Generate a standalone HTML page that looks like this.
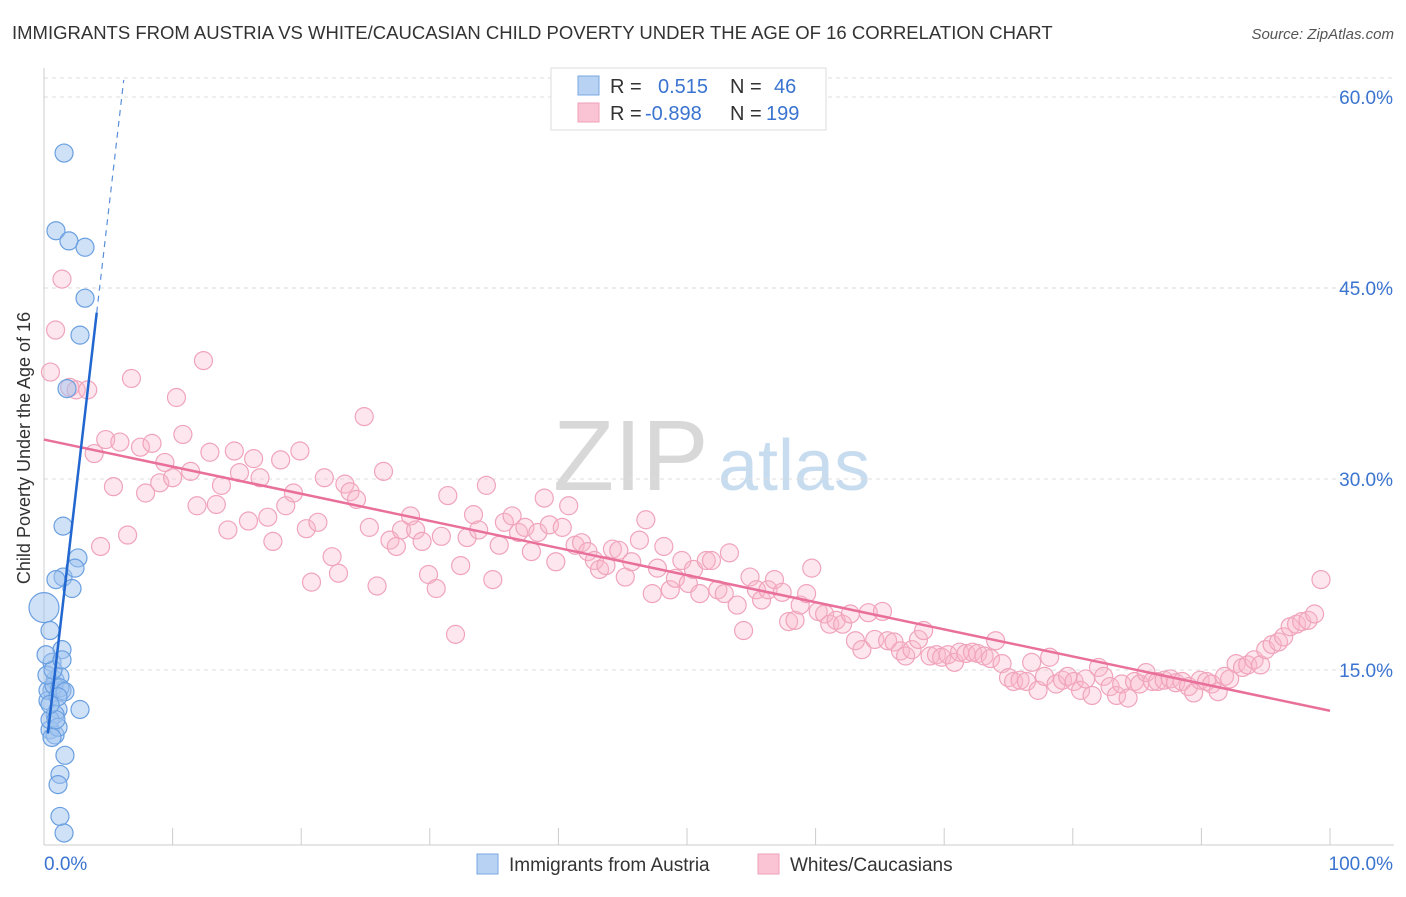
<!DOCTYPE html>
<html><head><meta charset="utf-8"><style>
body{margin:0;background:#fff;font-family:"Liberation Sans",sans-serif}
svg text{font-family:"Liberation Sans",sans-serif}
</style></head><body>
<svg id="c" width="1406" height="892" xmlns="http://www.w3.org/2000/svg">
<text x="12" y="39" font-size="18.5" fill="#333">IMMIGRANTS FROM AUSTRIA VS WHITE/CAUCASIAN CHILD POVERTY UNDER THE AGE OF 16 CORRELATION CHART</text>
<text x="1394" y="39" font-size="15" fill="#555" text-anchor="end" font-style="italic">Source: ZipAtlas.com</text>
<text x="37" y="455" font-size="18" fill="#333" text-anchor="middle" transform="rotate(-90 30 455)">Child Poverty Under the Age of 16</text>
<g>
<text x="553" y="490" font-size="100" fill="#d8d8d8" font-family="Liberation Serif">ZIP</text>
<text x="718" y="490" font-size="72" fill="#c8dcf0">atlas</text>
</g>
<g id="grid"></g><g id="axes"></g><g id="pink"></g><g id="blue"></g><g id="lines"></g>
<g>
<rect x="551" y="68" width="275" height="62" fill="#fff" stroke="#ddd"/>
<rect x="578" y="76" width="21" height="19" fill="#b8d2f4" stroke="#7aa8e0"/>
<rect x="578" y="103" width="21" height="19" fill="#fac4d4" stroke="#f0a0b8"/>
<text x="610" y="93" font-size="20" fill="#333">R = <tspan fill="#3a74d0" x="658">0.515</tspan></text>
<text x="730" y="93" font-size="20" fill="#333">N = <tspan fill="#3a74d0" x="774">46</tspan></text>
<text x="610" y="120" font-size="20" fill="#333">R = <tspan fill="#3a74d0" x="645">-0.898</tspan></text>
<text x="730" y="120" font-size="20" fill="#333">N = <tspan fill="#3a74d0" x="766">199</tspan></text>
</g>
<g>
<rect x="477" y="854" width="21" height="20" fill="#b8d2f4" stroke="#7aa8e0"/>
<text x="509" y="871" font-size="19" fill="#333">Immigrants from Austria</text>
<rect x="758" y="854" width="21" height="20" fill="#fac4d4" stroke="#f0a0b8"/>
<text x="790" y="871" font-size="19" fill="#333">Whites/Caucasians</text>
</g>
</svg>
<script>
const yTicks=[15,30,45,60];
const yTickLabels=["15.0%","30.0%","45.0%","60.0%"];
const xTicks=[0,10,20,30,40,50,60,70,80,90,100];
const blueX=[1.56,0.93,1.94,3.19,3.19,2.8,1.79,1.48,2.64,1.48,0.93,2.41,2.18,0,0.47,1.4,0.62,0.86,1.24,1.4,0.62,0.31,1.09,2.8,0.86,0.47,0.86,1.63,1.24,1.09,1.24,1.56,0.31,0.78,0.47,1.09,0.62,1.24,0.23,0.7,0.93,1.63,0.16,1.09,0.47,1.4];
const blueY=[55.6,49.5,48.7,48.2,44.2,41.3,37.1,26.3,23.8,22.3,22.1,23.0,21.4,19.9,18.1,16.6,15.6,14.2,14.5,13.4,13.4,12.6,11.9,11.9,11.5,10.3,9.9,8.3,6.8,6.0,3.5,2.2,13.4,13.8,11.1,10.5,9.7,13.6,14.6,15.0,11.1,13.3,16.2,12.9,12.3,15.8];
const pinkX=[.5,.9,1.4,2.0,2.5,3.4,3.9,4.4,4.8,5.4,5.9,6.5,6.8,7.5,7.9,8.4,9.0,9.4,10.0,10.3,10.8,11.4,11.9,12.4,12.9,13.4,13.8,14.3,14.8,15.2,15.9,16.3,16.8,17.4,17.8,18.4,18.8,19.4,19.9,20.4,20.8,21.3,21.8,22.4,22.9,23.4,23.8,24.3,24.9,25.3,25.9,26.4,26.9,27.4,27.8,28.5,28.9,29.4,29.9,30.5,30.9,31.4,32.0,32.4,32.9,33.4,33.8,34.4,34.9,35.4,35.8,36.4,36.9,37.4,37.9,38.4,38.9,39.3,39.8,40.3,40.8,41.3,41.8,42.3,42.8,43.2,43.7,44.2,44.7,45.2,45.7,46.3,46.8,47.3,47.7,48.2,48.7,49.1,49.6,50.1,50.5,51.0,51.5,51.9,52.4,52.9,53.3,53.9,54.4,54.9,55.4,55.8,56.3,56.8,57.4,57.9,58.4,58.8,59.3,59.7,60.2,60.7,61.1,61.6,62.1,62.7,63.1,63.6,64.1,64.6,65.2,65.6,66.1,66.6,67.0,67.5,68.0,68.4,68.9,69.4,69.8,70.3,70.8,71.2,71.7,72.2,72.6,73.1,73.6,74.0,74.5,75.0,75.4,75.9,76.4,76.8,77.3,77.8,78.2,78.7,79.2,79.6,80.1,80.6,81.0,81.5,82.0,82.4,82.9,83.4,83.8,84.3,84.8,85.2,85.7,86.2,86.6,87.1,87.6,88.0,88.5,89.0,89.4,89.9,90.4,90.8,91.3,91.8,92.2,92.7,93.2,93.6,94.1,94.6,95.0,95.5,96.0,96.4,96.9,97.4,97.8,98.3,98.8,99.3];
const pinkY=[38.4,41.7,45.7,37.2,37.0,37.0,32.0,24.7,33.1,29.4,32.9,25.6,37.9,32.5,28.9,32.8,29.7,31.3,30.1,36.4,33.5,30.6,27.9,39.3,32.1,28.0,29.5,26.0,32.2,30.5,26.7,31.6,30.1,27.0,25.1,31.5,27.9,28.9,32.2,26.1,21.9,26.6,30.1,23.9,22.6,29.6,29.0,28.4,34.9,26.2,21.6,30.6,25.2,24.7,26.0,27.1,26.0,25.1,22.5,21.4,25.5,28.7,17.8,23.2,25.4,27.2,26.0,29.5,22.1,24.8,26.6,27.1,25.8,26.2,24.3,25.8,28.5,26.4,23.5,26.2,27.9,24.8,25.0,24.3,23.6,22.9,23.2,24.5,24.4,22.3,23.5,25.2,26.8,21.0,23.0,24.7,21.3,22.2,23.6,21.8,22.9,21.0,23.6,23.6,21.3,21.0,24.2,20.1,18.1,22.3,21.3,20.5,21.3,22.1,21.1,18.8,18.9,20.1,21.0,23.0,19.6,19.4,18.6,18.9,18.6,19.4,17.3,16.6,19.5,17.4,19.6,17.3,17.2,16.5,16.1,16.6,17.4,18.1,16.1,16.2,16.0,16.2,15.6,16.4,16.3,16.4,16.3,16.1,15.9,17.3,15.5,14.4,14.1,14.2,14.1,15.6,13.4,14.5,16.0,13.9,14.2,14.5,14.1,13.4,14.3,13.0,15.2,14.5,13.7,13.0,13.9,12.8,14.1,13.9,14.8,14.1,14.1,14.2,14.3,14.0,14.1,13.7,13.2,14.2,14.1,13.9,13.3,14.5,14.3,15.5,15.2,15.4,15.8,15.4,16.6,17.0,17.2,17.6,18.4,18.6,18.8,18.9,19.4,22.1];
const pinkTrend=[33.1,11.8];
const blueTrend={x0:0.3,x1:4.1,x2:6.2,intercept:7.4,slope:8.7};
const NS="http://www.w3.org/2000/svg";
const sx=v=>44+v*12.86, sy=v=>861-v*12.733;
function mk(tag,attrs,parent){const e=document.createElementNS(NS,tag);for(const k in attrs)e.setAttribute(k,attrs[k]);parent.appendChild(e);return e;}
const grid=document.getElementById('grid'),axes=document.getElementById('axes');
let g=mk('line',{x1:44,x2:1394,y1:78,y2:78,stroke:'#ddd','stroke-dasharray':'4 4'},grid);


yTicks.forEach((t,i)=>{
 const l=mk('line',{x1:44,x2:1394,y1:sy(t),y2:sy(t),stroke:'#ddd','stroke-dasharray':'4 4'},grid);
 
 
 const tx=mk('text',{x:1393,y:sy(t)+7,'font-size':19,fill:'#3a74d0','text-anchor':'end'},axes);
 tx.textContent=yTickLabels[i];
 
 
});
let a=mk('line',{x1:44,x2:44,y1:68,y2:845,stroke:'#ccc'},axes);


a=mk('line',{x1:44,x2:1394,y1:845,y2:845,stroke:'#ccc'},axes);


xTicks.forEach(t=>{
 const l=mk('line',{x1:sx(t),x2:sx(t),y1:828,y2:845,stroke:'#ccc'},axes);
 
 
});
let xl=mk('text',{x:44,y:870,'font-size':19,fill:'#3a74d0'},axes);xl.textContent='0.0%';


xl=mk('text',{x:1393,y:870,'font-size':19,fill:'#3a74d0','text-anchor':'end'},axes);xl.textContent='100.0%';


const pg=document.getElementById('pink');
pinkX.forEach((x,i)=>{
 const c=mk('circle',{cx:sx(x),cy:sy(pinkY[i]),r:9,fill:'rgba(248,182,202,0.35)',stroke:'#f0a4bc','stroke-width':1.2},pg);
 
 
});
const bg=document.getElementById('blue');
blueX.forEach((x,i)=>{
 const c=mk('circle',{cx:sx(x),cy:sy(blueY[i]),r:i===13?15:9,fill:'rgba(160,196,240,0.5)',stroke:'#6a9fe0','stroke-width':1.2},bg);
 
 
});
const lg=document.getElementById('lines');
let t=mk('line',{x1:sx(0),y1:sy(pinkTrend[0]),x2:sx(100),y2:sy(pinkTrend[1]),stroke:'#e8709a','stroke-width':2.5},lg);


const by=x=>blueTrend.intercept+blueTrend.slope*x;
t=mk('line',{x1:sx(blueTrend.x0),y1:sy(by(blueTrend.x0)),x2:sx(blueTrend.x1),y2:sy(by(blueTrend.x1)),stroke:'#2266d0','stroke-width':2.5},lg);


t=mk('line',{x1:sx(blueTrend.x1),y1:sy(by(blueTrend.x1)),x2:sx(blueTrend.x2),y2:sy(by(blueTrend.x2)),stroke:'#5a8fd8','stroke-width':1.2,'stroke-dasharray':'6 5'},lg);


</script>
</body></html>
